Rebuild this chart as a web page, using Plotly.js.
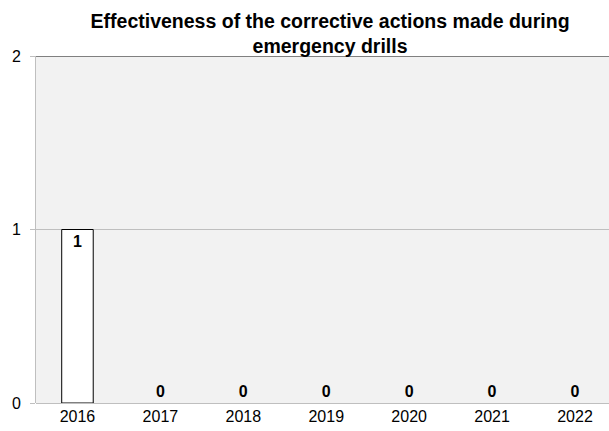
<!DOCTYPE html>
<html><head><meta charset="utf-8">
<script src="https://cdn.plot.ly/plotly-3.0.1.min.js"></script>
<style>html,body{margin:0;padding:0;overflow:hidden;background:#fff}</style>
</head><body>
<div id="chart" style="width:609px;height:431px"></div>
<script>
const years = ['2016','2017','2018','2019','2020','2021','2022'];
const values = [1,0,0,0,0,0,0];
const yTicks = [0,1,2];
const titleText = 'Effectiveness of the corrective actions made during<br>emergency drills';

const trace = {
  type: 'bar',
  x: years,
  y: values,
  width: 0.38,
  marker: {color: '#ffffff', line: {color: '#000000', width: values.map(v => v > 0 ? 1 : 0)}},
  text: values.map(String),
  textposition: values.map(v => v > 0 ? 'inside' : 'outside'),
  insidetextanchor: 'end',
  textfont: {family: 'Liberation Sans, Arial, sans-serif', size: 16, color: '#000', weight: 'bold'},
  cliponaxis: false,
  hoverinfo: 'none'
};

const layout = {
  width: 609, height: 431,
  margin: {l: 36, r: 0, t: 56, b: 28},
  paper_bgcolor: '#ffffff',
  plot_bgcolor: '#f2f2f2',
  showlegend: false,
  font: {family: 'Liberation Sans, Arial, sans-serif', size: 16, color: '#000'},
  title: {
    text: titleText,
    font: {family: 'Liberation Sans, Arial, sans-serif', size: 19.5, color: '#000', weight: 'bold'},
    x: 0.542, xref: 'container', xanchor: 'center',
    y: 0.935, yref: 'container', yanchor: 'middle'
  },
  xaxis: {
    type: 'category',
    range: [-0.5, 6.41],
    showgrid: false,
    showline: false,
    zeroline: false,
    ticks: '',
    tickfont: {size: 16},
    ticklabelstandoff: 2
  },
  yaxis: {
    range: [0, 2],
    tickvals: yTicks,
    ticktext: yTicks.map(String),
    showgrid: true,
    gridcolor: '#bfbfbf',
    gridwidth: 1,
    zeroline: true,
    zerolinecolor: '#bfbfbf',
    zerolinewidth: 1,
    showline: true,
    linecolor: '#bfbfbf',
    linewidth: 1,
    ticks: 'outside',
    ticklen: 5,
    tickcolor: '#bfbfbf',
    tickfont: {size: 16},
    ticklabelstandoff: 6
  },
  shapes: [{type: 'line', xref: 'paper', yref: 'y', x0: 0, x1: 1, y0: 2, y1: 2, line: {color: '#808080', width: 2}}]
};

Plotly.newPlot('chart', [trace], layout, {displayModeBar: false, staticPlot: true});
</script>
</body></html>
